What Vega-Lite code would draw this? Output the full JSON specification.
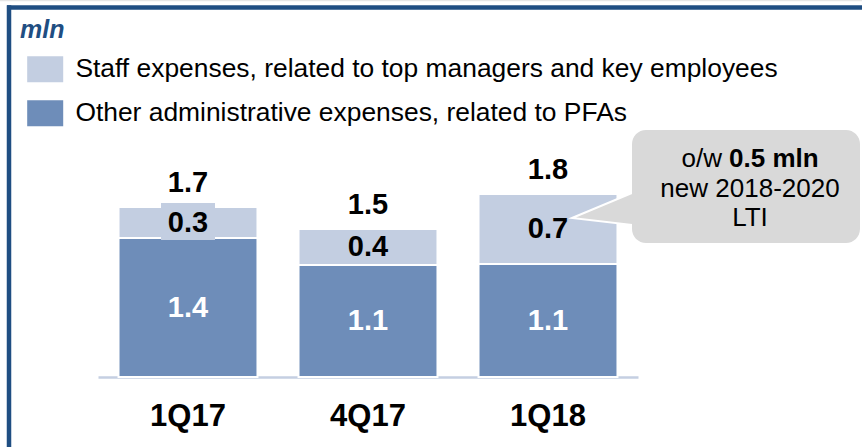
{
  "$schema": "https://vega.github.io/schema/vega-lite/v6.json",
  "width": 764,
  "height": 250,
  "autosize": {"type": "none"},
  "padding": {"left": 98, "top": 127, "right": 0, "bottom": 70},
  "background": "white",
  "config": {"view": {"stroke": null}, "font": "Liberation Sans"},
  "title": {"text": "mln", "anchor": "start", "frame": "group", "dx": -78, "offset": 0, "dy": 63, "fontSize": 25, "fontStyle": "italic", "fontWeight": "bold", "color": "#1F4E82", "font": "Liberation Sans", "baseline": "alphabetic"},
  "resolve": {"scale": {"x": "independent"}},
  "datasets": {
    "bars": [
      {"q": "1Q17", "series": "Other administrative expenses, related to PFAs", "kind": "other", "ord": 1, "value": 1.39, "label": "1.4"},
      {"q": "1Q17", "series": "Staff expenses, related to top managers and key employees", "kind": "staff", "ord": 2, "value": 0.31, "label": "0.3"},
      {"q": "4Q17", "series": "Other administrative expenses, related to PFAs", "kind": "other", "ord": 1, "value": 1.12, "label": "1.1"},
      {"q": "4Q17", "series": "Staff expenses, related to top managers and key employees", "kind": "staff", "ord": 2, "value": 0.36, "label": "0.4"},
      {"q": "1Q18", "series": "Other administrative expenses, related to PFAs", "kind": "other", "ord": 1, "value": 1.13, "label": "1.1"},
      {"q": "1Q18", "series": "Staff expenses, related to top managers and key employees", "kind": "staff", "ord": 2, "value": 0.70, "label": "0.7"}
    ]
  },
  "layer": [
    {
      "layer": [
        {
          "data": {"name": "bars"},
          "mark": {"type": "bar", "stroke": "white", "strokeWidth": 2},
          "encoding": {
            "x": {"field": "q", "type": "nominal", "sort": null,
              "scale": {"domain": ["1Q17", "4Q17", "1Q18"], "range": [0, 540], "paddingInner": 0.228, "paddingOuter": 0.114},
              "axis": {"title": null, "ticks": false, "domainColor": "#C5CFE2", "domainWidth": 2.5, "labelFontSize": 31, "labelFontWeight": "bold", "labelColor": "black", "labelPadding": 24, "labelAngle": 0, "grid": false}},
            "y": {"field": "value", "type": "quantitative", "stack": "zero", "scale": {"domain": [0, 2.5], "nice": false}, "axis": null},
            "color": {"field": "series", "type": "nominal",
              "scale": {"domain": ["Staff expenses, related to top managers and key employees", "Other administrative expenses, related to PFAs"], "range": ["#C3CEE1", "#6E8DB9"]},
              "legend": {"orient": "none", "legendX": -66, "legendY": -71, "direction": "vertical", "title": null, "padding": 0,
                "symbolType": "M-1.385,-1H1.385V1H-1.385Z", "symbolSize": 676, "symbolStrokeWidth": 0,
                "labelFontSize": 26.4, "labelColor": "black", "labelOffset": 17, "rowPadding": 17, "labelLimit": 0, "labelFont": "Liberation Sans"}},
            "order": {"field": "ord", "type": "quantitative"}
          }
        },
        {
          "data": {"values": [{"q": "1Q17", "lo": 1.37, "hi": 1.74}]},
          "mark": {"type": "bar", "width": 54, "color": "#C3CEE1"},
          "encoding": {
            "x": {"field": "q", "type": "nominal"},
            "y": {"field": "lo", "type": "quantitative"},
            "y2": {"field": "hi"}
          }
        },
        {
          "data": {"name": "bars"},
          "mark": {"type": "text", "fontSize": 29, "fontWeight": "bold", "baseline": "middle"},
          "encoding": {
            "x": {"field": "q", "type": "nominal", "sort": null},
            "y": {"field": "value", "type": "quantitative", "stack": "zero", "bandPosition": 0.5},
            "detail": {"field": "series"},
            "order": {"field": "ord", "type": "quantitative"},
            "text": {"field": "label"},
            "color": {"condition": {"test": "datum.kind === 'other'", "value": "white"}, "value": "black"}
          }
        },
        {
          "data": {"values": [
            {"q": "1Q17", "total": 1.70, "label": "1.7"},
            {"q": "4Q17", "total": 1.48, "label": "1.5"},
            {"q": "1Q18", "total": 1.83, "label": "1.8"}
          ]},
          "mark": {"type": "text", "fontSize": 29, "fontWeight": "bold", "baseline": "middle", "dy": -24, "color": "black"},
          "encoding": {
            "x": {"field": "q", "type": "nominal"},
            "y": {"field": "total", "type": "quantitative"},
            "text": {"field": "label"}
          }
        }
      ]
    },
    {
      "layer": [
        {
          "data": {"values": [{"x": -0.6, "x2": 4.4, "y": 3.765, "y2": 3.765}]},
          "mark": {"type": "rule", "color": "#E6E6E6", "strokeWidth": 1.5},
          "encoding": {
            "x": {"field": "x", "type": "quantitative", "scale": {"domain": [0, 4.24444], "nice": false, "zero": false}, "axis": null},
            "x2": {"field": "x2"},
            "y": {"field": "y", "type": "quantitative"},
            "y2": {"field": "y2"}
          }
        },
        {
          "data": {"values": [
            {"x": -0.5056, "x2": 4.4, "y": 3.695, "y2": 3.695},
            {"x": -0.49444, "x2": -0.49444, "y": 3.717, "y2": -0.9}
          ]},
          "mark": {"type": "rule", "color": "#1F4E82", "strokeWidth": 4.5},
          "encoding": {
            "x": {"field": "x", "type": "quantitative"},
            "x2": {"field": "x2"},
            "y": {"field": "y", "type": "quantitative"},
            "y2": {"field": "y2"}
          }
        },
        {
          "data": {"values": [
            {"px": 2.6333, "top": 1.59, "bot": 1.59},
            {"px": 3.0389, "top": 1.894, "bot": 1.505}
          ]},
          "mark": {"type": "area", "color": "#D9D9D9", "stroke": "white", "strokeWidth": 2, "orient": "vertical"},
          "encoding": {
            "x": {"field": "px", "type": "quantitative"},
            "y": {"field": "top", "type": "quantitative"},
            "y2": {"field": "bot"}
          }
        },
        {
          "data": {"values": [{"x": 2.9667, "x2": 4.2333, "y": 1.34, "y2": 2.47}]},
          "mark": {"type": "rect", "color": "#D9D9D9", "cornerRadius": 14},
          "encoding": {
            "x": {"field": "x", "type": "quantitative"},
            "x2": {"field": "x2"},
            "y": {"field": "y", "type": "quantitative"},
            "y2": {"field": "y2"}
          }
        },
        {
          "data": {"values": [
            {"x": 3.6222, "y": 1.883, "t": "new 2018-2020"},
            {"x": 3.6222, "y": 1.59, "t": "LTI"}
          ]},
          "mark": {"type": "text", "fontSize": 26, "align": "center", "baseline": "middle", "color": "black"},
          "encoding": {
            "x": {"field": "x", "type": "quantitative"},
            "y": {"field": "y", "type": "quantitative"},
            "text": {"field": "t"}
          }
        },
        {
          "data": {"values": [{"x": 3.2417, "y": 2.183, "t": "o/w"}]},
          "mark": {"type": "text", "fontSize": 26, "align": "left", "baseline": "middle", "color": "black"},
          "encoding": {
            "x": {"field": "x", "type": "quantitative"},
            "y": {"field": "y", "type": "quantitative"},
            "text": {"field": "t"}
          }
        },
        {
          "data": {"values": [{"x": 3.5056, "y": 2.183, "t": "0.5 mln"}]},
          "mark": {"type": "text", "fontSize": 26, "fontWeight": "bold", "align": "left", "baseline": "middle", "color": "black"},
          "encoding": {
            "x": {"field": "x", "type": "quantitative"},
            "y": {"field": "y", "type": "quantitative"},
            "text": {"field": "t"}
          }
        }
      ]
    }
  ]
}
